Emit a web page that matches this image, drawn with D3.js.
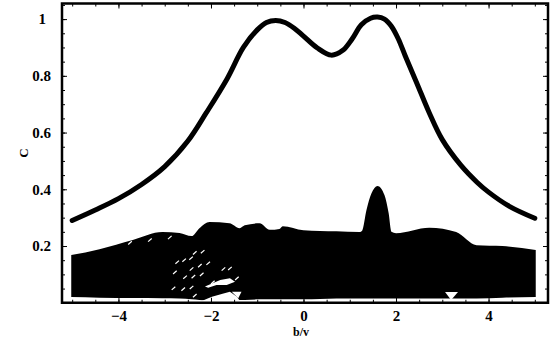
<!DOCTYPE html>
<html>
<head>
<meta charset="utf-8">
<script src="https://cdn.jsdelivr.net/npm/d3@7"></script>
<style>
  body { margin: 0; background: #fff; }
  svg { display: block; }
  text { font-family: "Liberation Serif", "DejaVu Serif", serif; fill: #000; }
</style>
</head>
<body>
<div id="app"></div>
<script>
// thick curve: C against b/v
const curveB = [-5.0, -4.5, -4.0, -3.5, -3.0, -2.5, -2.1, -1.65, -1.3, -1.0, -0.8, -0.6, -0.4, -0.2, 0.0, 0.3, 0.6, 0.85, 1.05, 1.25, 1.45, 1.6, 1.75, 1.9, 2.05, 2.2, 2.45, 2.72, 3.0, 3.4, 3.75, 4.0, 4.45, 5.0];
const curveC = [0.29, 0.327, 0.367, 0.417, 0.48, 0.57, 0.67, 0.79, 0.9, 0.962, 0.988, 0.995, 0.988, 0.968, 0.94, 0.898, 0.873, 0.89, 0.93, 0.98, 1.003, 1.007, 1.0, 0.975, 0.93, 0.87, 0.774, 0.669, 0.575, 0.485, 0.425, 0.39, 0.34, 0.298];

// dense bundle of thin curves near the bottom: upper and lower envelope
const bundleB   = [-5.02, -4.41, -3.69, -3.05, -2.68, -2.42, -2.25, -2.03, -1.6, -1.38, -1.27, -0.95, -0.73, -0.52, -0.45, 0.0, 0.71, 1.21, 1.27, 1.36, 1.47, 1.6, 1.75, 1.84, 1.9, 2.0, 2.72, 3.3, 3.74, 4.3, 5.02];
const bundleTop = [0.168, 0.189, 0.221, 0.249, 0.246, 0.235, 0.263, 0.285, 0.28, 0.263, 0.273, 0.28, 0.257, 0.26, 0.27, 0.256, 0.252, 0.249, 0.255, 0.326, 0.386, 0.412, 0.38, 0.316, 0.25, 0.245, 0.264, 0.249, 0.203, 0.2, 0.186];
const bundleLow = [0.02, 0.018, 0.017, 0.016, 0.015, 0.012, 0.01, 0.008, 0.008, 0.01, 0.01, 0.012, 0.012, 0.012, 0.012, 0.012, 0.015, 0.015, 0.015, 0.015, 0.015, 0.015, 0.015, 0.015, 0.015, 0.015, 0.015, 0.015, 0.015, 0.018, 0.02];

// white gaps left between the thin curves
const gapAB = [-2.13, -1.80, -1.59, -1.48, -1.66, -1.88, -2.06];
const gapAC = [0.057, 0.080, 0.086, 0.074, 0.063, 0.063, 0.053];
const gapBB = [-2.2, -1.98, -1.73, -1.59, -1.44, -1.37];
const gapBC = [0.006, 0.021, 0.033, 0.039, 0.021, 0.006];
const gapCB = [-1.55, -1.34, -1.41];
const gapCC = [0.039, 0.039, 0.016];
const gapDB = [3.06, 3.34, 3.19];
const gapDC = [0.038, 0.038, 0.01];
const dashB = [-2.73, -2.58, -2.43, -2.18, -2.35, -2.42, -2.24, -2.06, -2.78, -2.56, -2.38, -2.20, -2.42, -2.35, -2.6, -1.96, -1.73, -1.59, -1.44, -2.81, -3.75, -3.32, -2.89];
const dashC = [0.143, 0.150, 0.157, 0.180, 0.176, 0.119, 0.131, 0.139, 0.107, 0.090, 0.092, 0.100, 0.054, 0.025, 0.048, 0.072, 0.119, 0.121, 0.086, 0.051, 0.211, 0.221, 0.23];

const xMajor = [-4, -2, 0, 2, 4];
const yMajor = [0.2, 0.4, 0.6, 0.8, 1];
const xMinor = d3.range(-5, 5.01, 0.5);
const yMinor = d3.range(0.05, 1.051, 0.05);

const width = 557, height = 345;
const frame = { left: 62, right: 548, top: 3.5, bottom: 302.75 };

const svg = d3.select("#app").append("svg")
  .attr("width", width)
  .attr("height", height);

const x = d3.scaleLinear().domain([-5.22, 5.285]).range([frame.left, frame.right]);
const y = d3.scaleLinear().domain([0, 1.055]).range([frame.bottom, frame.top]);

// bundle as a filled band
const bundle = bundleB.map((b, i) => ({ b: b, top: bundleTop[i], low: bundleLow[i] }));
const area = d3.area()
  .x(d => x(d.b))
  .y0(d => y(d.low))
  .y1(d => y(d.top))
  .curve(d3.curveMonotoneX);

svg.append("path")
  .datum(bundle)
  .attr("d", area)
  .style("fill", "#000");

const gaps = [[gapAB, gapAC], [gapBB, gapBC], [gapCB, gapCC], [gapDB, gapDC]]
  .map(([bs, cs]) => bs.map((b, i) => [x(b), y(cs[i])]));

svg.append("g")
  .selectAll("path")
  .data(gaps)
  .join("path")
  .attr("d", d => "M" + d.join("L") + "Z")
  .style("fill", "#fff");

svg.append("g")
  .selectAll("line")
  .data(dashB.map((b, i) => ({ b: b, c: dashC[i] })))
  .join("line")
  .attr("x1", d => x(d.b) - 1.8)
  .attr("y1", d => y(d.c) + 1.6)
  .attr("x2", d => x(d.b) + 1.8)
  .attr("y2", d => y(d.c) - 1.6)
  .style("stroke", "#fff")
  .style("stroke-width", 1.2);

// main curve
const curve = curveB.map((b, i) => ({ b: b, c: curveC[i] }));
const line = d3.line()
  .x(d => x(d.b))
  .y(d => y(d.c))
  .curve(d3.curveCatmullRom.alpha(0.5));

svg.append("path")
  .datum(curve)
  .attr("d", line)
  .style("fill", "none")
  .style("stroke", "#000")
  .style("stroke-width", 5)
  .style("stroke-linecap", "round");

// frame ticks, pointing inward
const fmtX = d => d < 0 ? "\u2212" + (-d) : String(d);

function ticks(axis, transform) {
  const g = svg.append("g").attr("transform", transform).call(axis);
  g.attr("font-family", null);
  g.select(".domain").remove();
  g.selectAll(".tick line").style("stroke", "#000").style("stroke-width", 1);
  return g;
}

const bottomAxis = ticks(d3.axisBottom(x).tickValues(xMajor).tickSize(-5).tickPadding(8).tickFormat(fmtX),
  `translate(0,${frame.bottom})`);
bottomAxis.selectAll("text").style("font-size", "15px").style("font-weight", "bold");
ticks(d3.axisBottom(x).tickValues(xMinor).tickSize(-3).tickFormat(""), `translate(0,${frame.bottom})`);
ticks(d3.axisTop(x).tickValues(xMajor).tickSize(-5).tickFormat(""), `translate(0,${frame.top})`);
ticks(d3.axisTop(x).tickValues(xMinor).tickSize(-3).tickFormat(""), `translate(0,${frame.top})`);

const leftAxis = ticks(d3.axisLeft(y).tickValues(yMajor).tickSize(-5).tickPadding(11).tickFormat(d => String(d)),
  `translate(${frame.left},0)`);
leftAxis.selectAll("text").style("font-size", "15px").style("font-weight", "bold")
  .attr("dx", d => d === 1 ? -5 : 0);
ticks(d3.axisLeft(y).tickValues(yMinor).tickSize(-3).tickFormat(""), `translate(${frame.left},0)`);
ticks(d3.axisRight(y).tickValues(yMajor).tickSize(-5).tickFormat(""), `translate(${frame.right},0)`);
ticks(d3.axisRight(y).tickValues(yMinor).tickSize(-3).tickFormat(""), `translate(${frame.right},0)`);

// frame
svg.append("rect")
  .attr("x", frame.left)
  .attr("y", frame.top)
  .attr("width", frame.right - frame.left)
  .attr("height", frame.bottom - frame.top)
  .style("fill", "none")
  .style("stroke", "#000")
  .style("stroke-width", 2.5);

// axis titles
svg.append("text")
  .attr("x", 301)
  .attr("y", 336)
  .attr("text-anchor", "middle")
  .style("font-size", "12px")
  .style("font-weight", "bold")
  .text("b/v");

svg.append("text")
  .attr("transform", "translate(28,153) rotate(-90)")
  .attr("text-anchor", "middle")
  .style("font-size", "13px")
  .style("font-weight", "bold")
  .text("C");
</script>
</body>
</html>
